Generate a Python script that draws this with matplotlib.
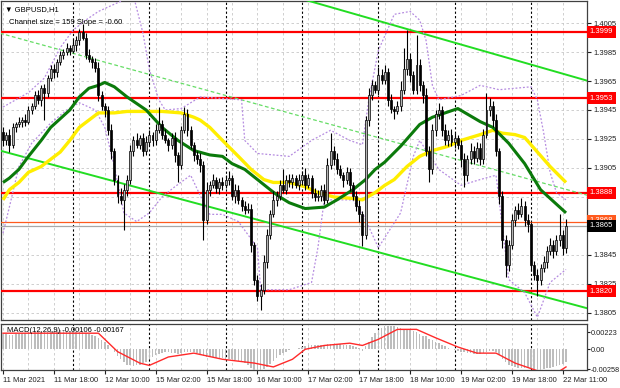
import numpy as np
import matplotlib
matplotlib.use("Agg")
import matplotlib.pyplot as plt

plt.rcParams['font.family'] = ['Liberation Sans', 'DejaVu Sans']

# hourly GBPUSD closes, 11 Mar 02:00 .. 22 Mar 11:00
first_open = 1.3930
closes = [1.3924, 1.3928, 1.3921, 1.3933, 1.3935, 1.3937, 1.3938, 1.3937, 1.3945, 1.3948,
          1.3955, 1.3952, 1.3960, 1.3957, 1.3967, 1.3973, 1.3971, 1.3978, 1.3983, 1.3985,
          1.3988, 1.3986, 1.3990, 1.3993, 1.3999, 1.3995, 1.3983, 1.3980, 1.3978, 1.3974,
          1.3955, 1.3948, 1.3945, 1.3931, 1.3917, 1.3897, 1.3886, 1.3883, 1.3890, 1.3897,
          1.3917, 1.3924, 1.3921, 1.3926, 1.3917, 1.3923, 1.3928, 1.3924, 1.3931, 1.3935,
          1.3928, 1.3924, 1.3921, 1.3926, 1.3914, 1.3907, 1.3931, 1.3942, 1.3931, 1.3921,
          1.3914, 1.3911, 1.3907, 1.3869, 1.3890, 1.3893, 1.3897, 1.3891, 1.3895, 1.3893,
          1.3897, 1.3898, 1.3886, 1.3890, 1.3883, 1.3879, 1.3876, 1.3877, 1.3852, 1.3828,
          1.3817, 1.3821, 1.3840, 1.3859, 1.3873, 1.3883, 1.3886, 1.3893, 1.3890, 1.3897,
          1.3895, 1.3898, 1.3893, 1.3897, 1.3900, 1.3893, 1.3898, 1.3888, 1.3885, 1.3886,
          1.3890, 1.3883, 1.3907, 1.3917, 1.3911, 1.3904, 1.3900, 1.3897, 1.3902, 1.3893,
          1.3886, 1.3879, 1.3873, 1.3859, 1.3938, 1.3955, 1.3962, 1.3959, 1.3969, 1.3966,
          1.3971, 1.3952, 1.3946, 1.3944, 1.3948, 1.3959, 1.3973, 1.3980, 1.3969, 1.3959,
          1.3976, 1.3962, 1.3955, 1.3917, 1.3904, 1.3931, 1.3942, 1.3945, 1.3931, 1.3924,
          1.3928, 1.3923, 1.3926, 1.3921, 1.3911, 1.3900, 1.3911, 1.3917, 1.3912, 1.3919,
          1.3911, 1.3928, 1.3945, 1.3948, 1.3938, 1.3917, 1.3886, 1.3855, 1.3838, 1.3852,
          1.3869, 1.3876, 1.3873, 1.3879, 1.3869, 1.3866, 1.3838, 1.3831, 1.3828, 1.3836,
          1.3840, 1.3848, 1.3852, 1.3848, 1.3855, 1.3859, 1.3850, 1.3865]
# wick lengths in pips
wick_up = [3, 2, 4, 3, 2, 3, 2, 4, 3, 2, 3, 4, 2, 3, 2, 3, 4, 2, 3, 2,
           3, 2, 4, 3, 2, 5, 3, 4, 2, 3, 4, 3, 2, 3, 4, 2, 3, 5, 4, 3,
           4, 3, 5, 2, 3, 4, 3, 2, 4, 12, 3, 4, 2, 3, 4, 2, 3, 5, 4, 3,
           2, 3, 4, 3, 5, 3, 4, 2, 3, 4, 3, 5, 2, 4, 3, 2, 3, 4, 3, 2,
           3, 4, 5, 4, 3, 6, 3, 4, 11, 3, 4, 3, 2, 4, 3, 5, 3, 2, 3, 4,
           3, 4, 5, 12, 3, 4, 3, 2, 4, 3, 2, 3, 4, 2, 3, 5, 4, 3, 6, 4,
           5, 3, 4, 2, 3, 6, 15, 20, 4, 3, 21, 4, 3, 5, 3, 4, 3, 5, 3, 4,
           3, 4, 3, 2, 3, 4, 3, 5, 3, 4, 3, 4, 12, 5, 3, 4, 2, 3, 4, 3,
           4, 3, 5, 5, 3, 4, 2, 3, 4, 3, 4, 3, 5, 3, 4, 14, 3, 5]
wick_dn = [4, 3, 5, 2, 3, 2, 4, 3, 2, 3, 2, 3, 4, 19, 3, 2, 4, 3, 2, 3,
           2, 3, 2, 4, 3, 2, 3, 2, 4, 3, 4, 3, 5, 3, 6, 4, 5, 3, 21, 4,
           3, 4, 2, 3, 4, 3, 2, 4, 3, 2, 3, 2, 4, 3, 5, 12, 3, 2, 4, 3,
           4, 3, 5, 14, 3, 4, 2, 3, 4, 3, 2, 4, 3, 5, 3, 4, 3, 2, 5, 4,
           4, 10, 3, 4, 3, 2, 4, 3, 2, 3, 3, 4, 2, 3, 4, 3, 2, 4, 3, 3,
           4, 3, 2, 3, 4, 3, 2, 5, 3, 4, 3, 4, 5, 8, 3, 4, 3, 2, 4, 3,
           3, 4, 3, 5, 2, 4, 3, 4, 5, 3, 3, 4, 5, 4, 9, 3, 4, 3, 4, 3,
           4, 3, 4, 3, 5, 8, 4, 3, 4, 3, 4, 3, 2, 4, 5, 4, 6, 5, 8, 4,
           3, 4, 3, 2, 4, 5, 4, 3, 11, 4, 3, 4, 3, 5, 3, 4, 5, 4]

# moving averages and bands (bar index, price)
ma_green_idx = [0, 2, 5, 8, 12, 15, 18, 21, 24, 27, 30, 32, 35, 39, 45, 50, 55, 60, 65, 69,
                72, 76, 80, 84, 87, 90, 95, 101, 105, 110, 114, 117, 120, 125, 131, 135, 143, 150, 154, 159,
                164, 169, 177]
ma_green = [1.3895, 1.3898, 1.3904, 1.3913, 1.3924, 1.3933, 1.3939, 1.3945, 1.3954, 1.3960,
            1.3962, 1.3964, 1.3961, 1.3954, 1.3945, 1.3933, 1.3924, 1.3917, 1.3914, 1.3913,
            1.3908, 1.3904, 1.3897, 1.3890, 1.3885, 1.3881, 1.3877, 1.3878, 1.3883, 1.3890,
            1.3897, 1.3904, 1.3909, 1.3920, 1.3935, 1.3940, 1.3946, 1.3937, 1.3933, 1.3922,
            1.3908, 1.3890, 1.3874]
ma_yellow_idx = [0, 2, 5, 8, 12, 15, 18, 21, 24, 27, 30, 35, 39, 46, 50, 56, 60, 62, 65, 69,
                 74, 78, 82, 85, 90, 95, 99, 104, 110, 113, 117, 120, 123, 127, 131, 135, 140, 144, 150, 154,
                 157, 161, 164, 168, 172, 177]
ma_yellow = [1.3883, 1.3890, 1.3895, 1.3902, 1.3906, 1.3911, 1.3916, 1.3924, 1.3933, 1.3938,
             1.3943, 1.3943, 1.3944, 1.3944, 1.3944, 1.3943, 1.3940, 1.3938, 1.3933, 1.3924,
             1.3913, 1.3904, 1.3897, 1.3895, 1.3895, 1.3892, 1.3888, 1.3885, 1.3884, 1.3883,
             1.3888, 1.3893, 1.3897, 1.3906, 1.3913, 1.3917, 1.3920, 1.3924, 1.3928, 1.3931,
             1.3929, 1.3928, 1.3926, 1.3916, 1.3906, 1.3895]
bb_up_idx = [0, 4, 8, 13, 18, 22, 26, 30, 37, 41, 44, 46, 49, 51, 56, 62, 75, 76, 80, 90,
             97, 103, 109, 113, 115, 118, 123, 128, 131, 133, 135, 137, 144, 150, 156, 166, 168, 170, 172, 174,
             177]
bb_up = [1.3947, 1.3952, 1.3957, 1.3967, 1.3988, 1.4000, 1.4007, 1.4013, 1.4020, 1.4024,
         1.3998, 1.3973, 1.3952, 1.3945, 1.3946, 1.3954, 1.3952, 1.3924, 1.3915, 1.3913,
         1.3924, 1.3931, 1.3924, 1.3921, 1.3952, 1.3986, 1.4011, 1.4013, 1.4007, 1.3993,
         1.3962, 1.3952, 1.3955, 1.3962, 1.3959, 1.3961, 1.3952, 1.3929, 1.3902, 1.3888,
         1.3883]
bb_lo_idx = [0, 2, 5, 9, 15, 20, 24, 29, 32, 35, 38, 42, 46, 50, 54, 59, 62, 65, 69, 74,
             76, 80, 81, 90, 97, 99, 101, 110, 113, 118, 125, 129, 131, 137, 144, 150, 155, 159, 164, 168,
             172, 177]
bb_lo = [1.3860, 1.3878, 1.3906, 1.3922, 1.3936, 1.3945, 1.3950, 1.3945, 1.3933, 1.3906,
         1.3874, 1.3868, 1.3874, 1.3885, 1.3892, 1.3900, 1.3886, 1.3873, 1.3873, 1.3868,
         1.3862, 1.3850, 1.3821, 1.3821, 1.3826, 1.3850, 1.3883, 1.3883, 1.3874, 1.3850,
         1.3874, 1.3913, 1.3924, 1.3904, 1.3893, 1.3897, 1.3900, 1.3828, 1.3819, 1.3802,
         1.3826, 1.3835]

# trend channel (bar index, price)
chan_lo_idx = [-1, 184]
chan_lo = [1.3917, 1.3808]
chan_up_idx = [95, 184]
chan_up = [1.4021, 1.3965]
chan_mid_idx = [-1, 184]
chan_mid = [1.3998, 1.3886]

levels = [1.3999, 1.3953, 1.3888, 1.3820]
ask_level = 1.3868
bid_level = 1.3865

# MACD (x 1e-4)
macd_hist = [20, 20, 19, 19, 20, 20, 21, 21, 22, 22, 22, 23, 23, 23, 24, 24, 24, 25, 25, 24,
             24, 24, 23, 23, 23, 22, 21, 20, 19, 18,
             15, 12, 9, 5, 1, -4, -9, -13, -17, -20, -21,
             -22, -21, -20, -18, -16, -13, -10, -8, -6, -5,
             -4, -4, -5, -5, -6, -5, -3, -3, -4, -4, -5, -6,
             -9, -10, -10, -10, -11, -11, -11, -12, -12, -13, -14, -15, -16, -18, -20, -24, -27, -28,
             -28, -26, -23, -19, -15, -11, -8, -5, -3, -1, 0, 1, 2, 3, 4,
             5, 5, 5, 5, 6, 6, 7, 7, 7, 7, 7, 6, 6, 5, 4, 3, 2,
             -2,
             4, 10, 16, 21, 25, 28, 30, 31, 31, 30, 29, 28,
             27, 27, 26, 24, 23, 20, 18, 17, 14, 12, 10, 8,
             6, 4, 2, 0, -1, -2, -3, -4, -5, -5, -6, -6, -6,
             -5, -3, -2, -2, -4,
             -8, -13, -17, -20, -22, -23, -24, -24, -24, -25, -26, -27, -28, -27, -26,
             -25, -24, -23, -22, -21, -19, -17]
signal_idx = [0, 30, 36, 43, 46, 52, 60, 69, 79, 85, 91, 95, 101, 109, 113, 118, 124, 130, 136, 143,
              149, 155, 161, 168, 174, 177]
signal = [21, 21, -3, -18, -21, -10, -5, -13, -18, -23, -13, 0, 5, 8, 5, 13, 26, 26, 15, 3,
          -5, -5, -18, -28, -31, -23]

day_starts = [22, 46, 70, 94, 118, 142, 166]
time_labels = ["11 Mar 2021", "11 Mar 18:00", "12 Mar 10:00", "15 Mar 02:00", "15 Mar 18:00",
               "16 Mar 10:00", "17 Mar 02:00", "17 Mar 18:00", "18 Mar 10:00", "19 Mar 02:00",
               "19 Mar 18:00", "22 Mar 11:00"]
price_ticks = [1.4005, 1.3985, 1.3965, 1.3945, 1.3925, 1.3905, 1.3885, 1.3865, 1.3845, 1.3825, 1.3805]

closes = np.array(closes)
opens = np.concatenate([[first_open], closes[:-1]])
highs = np.maximum(opens, closes) + np.array(wick_up) * 1e-4
lows = np.minimum(opens, closes) - np.array(wick_dn) * 1e-4
idx = np.arange(len(closes))

FS = 5.5
W, H = 620, 388
fig = plt.figure(figsize=(6.2, 3.88), dpi=100)
ax = fig.add_axes([1 / W, 1 - 320 / H, 586 / W, 319 / H])
axm = fig.add_axes([1 / W, 1 - 370 / H, 586 / W, 46 / H], sharex=ax)

ax.set_xlim(-0.63, 183.6)
ax.set_ylim(1.38001, 1.40202)

grid_kw = dict(color="#c8c8c8", lw=0.6, ls=(0, (3, 3)), zorder=0)
for p in price_ticks:
    ax.axhline(p, **grid_kw)
for g in range(0, 184, 8):
    ax.axvline(g, **grid_kw)
    axm.axvline(g, **grid_kw)
for d in day_starts:
    ax.axvline(d, color="black", lw=0.8, ls=(0, (2, 2)), zorder=1)
    axm.axvline(d, color="black", lw=0.8, ls=(0, (2, 2)), zorder=1)

# levels
for lv in levels:
    ax.axhline(lv, color="#ff0000", lw=1.6, zorder=3)
ax.axhline(ask_level, color="#ff5a1e", lw=0.9, zorder=3)
ax.axhline(bid_level, color="#a8a8a8", lw=0.9, zorder=3)

# channel
ax.plot(chan_lo_idx, chan_lo, color="#22dd22", lw=1.4, zorder=4)
ax.plot(chan_up_idx, chan_up, color="#22dd22", lw=1.4, zorder=4)
ax.plot(chan_mid_idx, chan_mid, color="#66dd66", lw=0.9, ls=(0, (3, 2)), zorder=4)

# bands and averages
ax.plot(bb_up_idx, bb_up, color="#b58be0", lw=0.9, ls=(0, (1.5, 1.5)), zorder=4)
ax.plot(bb_lo_idx, bb_lo, color="#b58be0", lw=0.9, ls=(0, (1.5, 1.5)), zorder=4)
ax.plot(ma_yellow_idx, ma_yellow, color="#ffee00", lw=2.4, zorder=5, solid_capstyle="butt")
ax.plot(ma_green_idx, ma_green, color="#0b7a0b", lw=2.2, zorder=6, solid_capstyle="butt")

# candles
up = closes >= opens
ax.vlines(idx, lows, highs, color="black", lw=0.8, zorder=7)
body = np.abs(closes - opens)
body = np.where(body < 0.00005, 0.00005, body)
ax.bar(idx[up], body[up], bottom=np.minimum(opens, closes)[up], width=0.62,
       color="#b4b4b4", edgecolor="black", lw=0.5, zorder=8)
ax.bar(idx[~up], body[~up], bottom=np.minimum(opens, closes)[~up], width=0.62,
       color="black", edgecolor="black", lw=0.5, zorder=8)

# right scale
ax.yaxis.tick_right()
ax.set_yticks(price_ticks)
ax.set_yticklabels([f"{p:.4f}" for p in price_ticks])
ax.tick_params(axis="y", labelsize=FS, length=3, pad=1.5, colors="#202020")
ax.tick_params(axis="x", bottom=False, labelbottom=False)

tr = ax.get_yaxis_transform()
box_kw = dict(transform=tr, ha="left", va="center", fontsize=FS, color="white", clip_on=False)
for lv in levels:
    ax.text(1.005, lv, f"{lv:.4f}", zorder=10,
            bbox=dict(boxstyle="square,pad=0.32", fc="#ff0000", ec="none"), **box_kw)
ax.text(1.005, ask_level + 0.00006, f"{ask_level:.4f}", zorder=10,
        bbox=dict(boxstyle="square,pad=0.32", fc="#ff5a1e", ec="none"), **box_kw)
ax.text(1.005, bid_level, f"{bid_level:.4f}", zorder=11,
        bbox=dict(boxstyle="square,pad=0.32", fc="black", ec="none"), **box_kw)

ax.text(4 / 586, 1 - 9 / 319, "\u25bc GBPUSD,H1", transform=ax.transAxes, fontsize=FS,
        va="center", ha="left", zorder=12)
ax.text(8 / 586, 1 - 21 / 319, "Channel size = 159 Slope = -0.60", transform=ax.transAxes,
        fontsize=FS, va="center", ha="left", zorder=12)

for s in ax.spines.values():
    s.set_color("#404040")
    s.set_linewidth(0.9)

# MACD panel
axm.bar(idx, np.array(macd_hist) * 1e-4, width=0.5, color="#bdbdbd", zorder=3)
axm.plot(signal_idx, np.array(signal) * 1e-4, color="#ff2a2a", lw=1.0, zorder=4)
axm.set_ylim(-0.0027, 0.0033)
axm.yaxis.tick_right()
axm.set_yticks([0.00223, 0.0, -0.00258])
axm.set_yticklabels(["0.00223", "0.00", "-0.00258"])
axm.tick_params(axis="y", labelsize=5.3, length=2, pad=0.8, colors="#202020")
axm.set_xticks(list(range(0, 177, 16)))
axm.set_xticklabels(time_labels, ha="left")
axm.tick_params(axis="x", labelsize=FS, length=3, pad=2, colors="#202020")
axm.text(6 / 586, 0.85, "MACD(12,26,9) -0.00106 -0.00167", transform=axm.transAxes,
         fontsize=FS, va="center", ha="left", zorder=6)
for s in axm.spines.values():
    s.set_color("#404040")
    s.set_linewidth(0.9)

fig.savefig("out.png", dpi=100, facecolor="white")
